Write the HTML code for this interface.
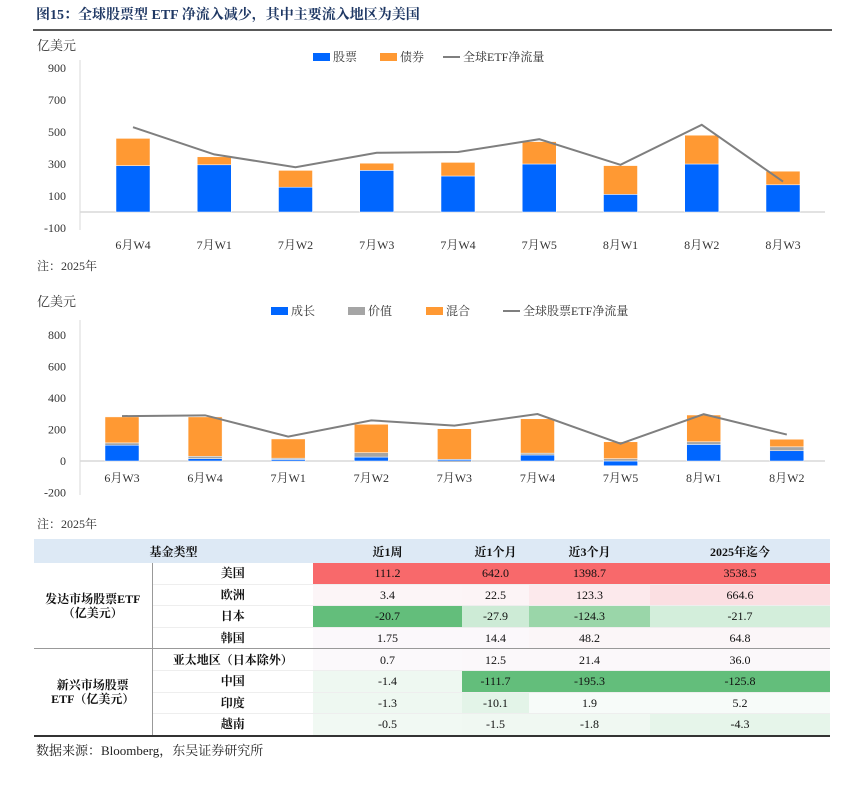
<!DOCTYPE html>
<html><head><meta charset="utf-8">
<style>
body{margin:0;background:#fff;width:851px;height:789px;overflow:hidden;position:relative;font-family:"Liberation Serif","Noto Serif CJK SC",serif;}
svg{position:absolute;left:0;top:0}
text{font-family:"Liberation Serif","Noto Serif CJK SC",serif;}
.tbl{position:absolute;left:34px;top:539px;border-collapse:collapse;font-size:12px;color:#111;table-layout:fixed}
.tbl td{height:20.6px;line-height:14px;padding:0;text-align:center;border-bottom:1px solid #eee}
.tbl th{height:22px;background:#dde9f5;font-weight:bold;font-size:12px;font-family:"Liberation Serif","Noto Serif CJK SC",serif}
.g{font-weight:bold;font-family:"Liberation Serif","Noto Serif CJK SC",serif;border-right:1px solid #999}
.r{font-weight:bold}
</style></head><body>
<svg id="s" width="851" height="789">
<text x="36" y="19" font-size="14" font-weight="bold" fill="#1f3864">图15：全球股票型 ETF 净流入减少，其中主要流入地区为美国</text>
<line x1="33" y1="30" x2="832" y2="30" stroke="#222" stroke-width="1.5"/>
<text x="37" y="50" font-size="13" fill="#333">亿美元</text>
<text x="37" y="270" font-size="12" fill="#333">注：2025年</text>
<text x="37" y="306" font-size="13" fill="#333">亿美元</text>
<text x="37" y="528" font-size="12" fill="#333">注：2025年</text>
<g font-size="12" fill="#333">
<rect x="313" y="53" width="17" height="8" fill="#0066ff"/><text x="333" y="61">股票</text>
<rect x="380" y="53" width="17" height="8" fill="#ff9933"/><text x="400" y="61">债券</text>
<line x1="443" y1="57" x2="460" y2="57" stroke="#7f7f7f" stroke-width="2"/><text x="463" y="61">全球ETF净流量</text>
</g>
<g font-size="12" fill="#333">
<rect x="271" y="307" width="17" height="8" fill="#0066ff"/><text x="291" y="315">成长</text>
<rect x="348" y="307" width="17" height="8" fill="#a5a5a5"/><text x="368" y="315">价值</text>
<rect x="426" y="307" width="17" height="8" fill="#ff9933"/><text x="446" y="315">混合</text>
<line x1="503" y1="311" x2="520" y2="311" stroke="#7f7f7f" stroke-width="2"/><text x="523" y="315">全球股票ETF净流量</text>
</g>
<text x="36" y="755" font-size="13" fill="#222">数据来源：Bloomberg，东吴证券研究所</text>
</svg>

<table class="tbl">
<colgroup><col style="width:118px"><col style="width:161px"><col style="width:149px"><col style="width:67px"><col style="width:121px"><col style="width:180px"></colgroup>
<tr><th colspan="2">基金类型</th><th>近1周</th><th>近1个月</th><th>近3个月</th><th>2025年迄今</th></tr>
<tr><td rowspan="4" class="g" style="border-bottom:1px solid #999">发达市场股票ETF<br>（亿美元）</td><td class="r">美国</td><td style="background:#f8696b">111.2</td><td style="background:#f8696b">642.0</td><td style="background:#f8696b">1398.7</td><td style="background:#f8696b">3538.5</td></tr>
<tr><td class="r">欧洲</td><td style="background:#fcf5f7">3.4</td><td style="background:#fcf4f6">22.5</td><td style="background:#fce9ec">123.3</td><td style="background:#fbdfe2">664.6</td></tr>
<tr><td class="r">日本</td><td style="background:#63be7b">-20.7</td><td style="background:#cdebd6">-27.9</td><td style="background:#9ad6a9">-124.3</td><td style="background:#d3eedb">-21.7</td></tr>
<tr><td class="r" style="border-bottom:1px solid #999">韩国</td><td style="background:#fbf8fb;border-bottom:1px solid #999">1.75</td><td style="background:#fbf8fb;border-bottom:1px solid #999">14.4</td><td style="background:#fbf6f8;border-bottom:1px solid #999">48.2</td><td style="background:#fbf6f8;border-bottom:1px solid #999">64.8</td></tr>
<tr><td rowspan="4" class="g" style="border-bottom:2px solid #333">新兴市场股票<br>ETF（亿美元）</td><td class="r">亚太地区（日本除外）</td><td style="background:#fbf9fb">0.7</td><td style="background:#fbf8fa">12.5</td><td style="background:#fbf8fa">21.4</td><td style="background:#fbf8fa">36.0</td></tr>
<tr><td class="r">中国</td><td style="background:#eef8f1">-1.4</td><td style="background:#63be7b">-111.7</td><td style="background:#63be7b">-195.3</td><td style="background:#63be7b">-125.8</td></tr>
<tr><td class="r">印度</td><td style="background:#eef8f1">-1.3</td><td style="background:#e3f4e8">-10.1</td><td style="background:#f7fbf9">1.9</td><td style="background:#f7fbf9">5.2</td></tr>
<tr><td class="r" style="border-bottom:2px solid #333">越南</td><td style="background:#f1f9f3;border-bottom:2px solid #333">-0.5</td><td style="background:#f0f8f2;border-bottom:2px solid #333">-1.5</td><td style="background:#f0f8f2;border-bottom:2px solid #333">-1.8</td><td style="background:#e6f5ea;border-bottom:2px solid #333">-4.3</td></tr>
</table>

<script>
const cats1 = ["6月W4","7月W1","7月W2","7月W3","7月W4","7月W5","8月W1","8月W2","8月W3"];
const stock1 = [290,295,155,260,225,300,110,300,170];
const bond1 = [170,50,105,45,85,140,180,180,85];
const net1 = [530,360,280,370,375,455,295,545,190];
const ticks1 = [900,700,500,300,100,-100];

const cats2 = ["6月W3","6月W4","7月W1","7月W2","7月W3","7月W4","7月W5","8月W1","8月W2"];
const growth2 = [100,15,10,25,10,38,-30,105,65];
const value2 = [15,15,8,28,-8,12,15,17,25];
const mixed2 = [165,250,122,180,195,218,107,170,48];
const net2 = [285,290,155,258,225,298,110,297,168];
const ticks2 = [800,600,400,200,0,-200];

const NS="http://www.w3.org/2000/svg";
const svg=document.getElementById('s');
function mk(tag,attrs,parent){const e=document.createElementNS(NS,tag);for(const k in attrs)e.setAttribute(k,attrs[k]);(parent||svg).appendChild(e);return e;}

function drawChart(o){
  const y=v=>o.y0-v*o.k;
  const x=i=>o.x0+i*o.step;
  const g=mk('g',{});
  
  
  const ax=mk('line',{x1:o.axX,x2:o.axX,y1:o.axTop,y2:o.axBot,stroke:'#d9d9d9'},g);
  
  
  o.ticks.forEach(t=>{
    const tx=mk('text',{x:66,y:y(t)+4,'text-anchor':'end','font-size':12,fill:'#333'},g);
    
    
    tx.textContent=t;
  });
  const z=mk('line',{x1:o.axX,x2:825,y1:y(0),y2:y(0),stroke:'#d9d9d9','stroke-width':1.5},g);
  
  
  o.cats.forEach((c,i)=>{
    let pos=0,neg=0;
    o.series.forEach(s=>{
      const v=s.vals[i];
      let top,bot;
      if(v>=0){bot=pos;top=pos+v;pos=top;}else{top=neg;bot=neg+v;neg=bot;}
      const r=mk('rect',{x:x(i)-17,width:34,y:y(top),height:Math.max(0,y(bot)-y(top)),fill:s.color,stroke:'#fff','stroke-width':0.5},g);
      
      
    });
    const lb=mk('text',{x:x(i),y:o.labY,'text-anchor':'middle','font-size':12,fill:'#333'},g);
    
    
    lb.textContent=c;
  });
  const p=mk('polyline',{points:o.net.map((v,i)=>x(i)+','+y(v)).join(' '),fill:'none',stroke:'#7f7f7f','stroke-width':2},g);
  
  
}
drawChart({name:'chart1-etf-flows',cats:cats1,ticks:ticks1,net:net1,x0:133,step:81.25,y0:212,k:32/200,axX:80,axTop:60,axBot:230,labY:249,
  series:[{key:'stock',vals:stock1,color:'#0066ff'},{key:'bond',vals:bond1,color:'#ff9933'}]});
drawChart({name:'chart2-equity-style-flows',cats:cats2,ticks:ticks2,net:net2,x0:122,step:83.1,y0:461,k:31.5/200,axX:80,axTop:320,axBot:495,labY:482,
  series:[{key:'growth',vals:growth2,color:'#0066ff'},{key:'value',vals:value2,color:'#a5a5a5'},{key:'mixed',vals:mixed2,color:'#ff9933'}]});
</script>
</body></html>
